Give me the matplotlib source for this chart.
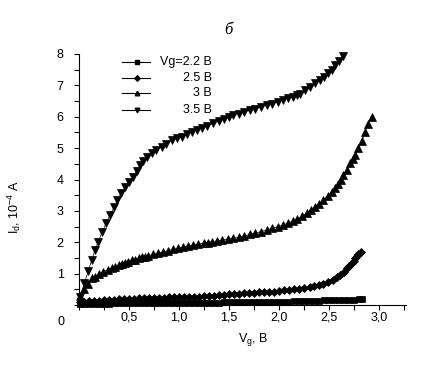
import matplotlib
matplotlib.use("Agg")
import matplotlib.pyplot as plt
from matplotlib.ticker import MultipleLocator, FixedLocator, FixedFormatter

plt.rcParams['font.family'] = ['Liberation Sans', 'DejaVu Sans']
plt.rcParams['mathtext.fontset'] = 'custom'
plt.rcParams['mathtext.rm'] = 'Liberation Sans'
plt.rcParams['mathtext.it'] = 'Liberation Sans'

# ---- data ----
x_22 = [0.01, 0.05, 0.10, 0.15, 0.20, 0.25, 0.30, 0.35, 0.40, 0.45, 0.50, 0.55, 0.60, 0.65,
        0.70, 0.75, 0.80, 0.85, 0.90, 0.95, 1.00, 1.05, 1.10, 1.15, 1.20, 1.25, 1.30, 1.35,
        1.40, 1.45, 1.50, 1.55, 1.60, 1.65, 1.70, 1.75, 1.80, 1.85, 1.90, 1.95, 2.00, 2.05,
        2.10, 2.15, 2.20, 2.25, 2.30, 2.35, 2.40, 2.45, 2.50, 2.55, 2.60, 2.65, 2.70, 2.75,
        2.80, 2.83]
y_22 = [0.04, 0.04, 0.04, 0.04, 0.045, 0.045, 0.045, 0.05, 0.05, 0.05, 0.05, 0.05, 0.055, 0.055,
        0.055, 0.06, 0.06, 0.06, 0.06, 0.06, 0.065, 0.065, 0.065, 0.07, 0.07, 0.07, 0.07, 0.075,
        0.075, 0.08, 0.08, 0.08, 0.085, 0.085, 0.09, 0.09, 0.09, 0.095, 0.095, 0.10, 0.10, 0.10,
        0.11, 0.12, 0.13, 0.13, 0.135, 0.14, 0.14, 0.145, 0.15, 0.155, 0.16, 0.165, 0.17, 0.175,
        0.18, 0.18]

x_25 = [0.01, 0.05, 0.10, 0.15, 0.20, 0.25, 0.30, 0.35, 0.40, 0.45, 0.50, 0.55, 0.60, 0.65,
        0.70, 0.75, 0.80, 0.85, 0.90, 0.95, 1.00, 1.05, 1.10, 1.15, 1.20, 1.25, 1.30, 1.35,
        1.40, 1.45, 1.50, 1.55, 1.60, 1.65, 1.70, 1.75, 1.80, 1.85, 1.90, 1.95, 2.00, 2.05,
        2.10, 2.15, 2.20, 2.25, 2.31, 2.35, 2.40, 2.443, 2.49, 2.543, 2.58, 2.61, 2.645, 2.677,
        2.70, 2.727, 2.745, 2.76, 2.78, 2.793, 2.817]
y_25 = [0.10, 0.11, 0.12, 0.13, 0.14, 0.15, 0.16, 0.17, 0.18, 0.19, 0.19, 0.20, 0.21, 0.21,
        0.22, 0.22, 0.23, 0.23, 0.24, 0.24, 0.25, 0.25, 0.26, 0.26, 0.27, 0.28, 0.29, 0.30,
        0.31, 0.32, 0.34, 0.35, 0.36, 0.37, 0.38, 0.39, 0.40, 0.41, 0.42, 0.43, 0.45, 0.47,
        0.48, 0.50, 0.52, 0.55, 0.58, 0.61, 0.64, 0.67, 0.72, 0.80, 0.88, 0.96, 1.06, 1.17,
        1.25, 1.33, 1.41, 1.49, 1.56, 1.62, 1.70]

x_30 = [0.01, 0.05, 0.09, 0.127, 0.16, 0.20, 0.243, 0.293, 0.33, 0.36, 0.40, 0.427, 0.46,
        0.493, 0.53, 0.56, 0.60, 0.627, 0.66, 0.693, 0.74, 0.793, 0.84, 0.893, 0.94, 0.993,
        1.04, 1.093, 1.14, 1.193, 1.25, 1.29, 1.327, 1.377, 1.43, 1.49, 1.543, 1.60, 1.65,
        1.71, 1.76, 1.82, 1.877, 1.93, 1.99, 2.043, 2.09, 2.14, 2.177, 2.23, 2.277, 2.32,
        2.36, 2.40, 2.443, 2.487, 2.527, 2.56, 2.593, 2.62, 2.643, 2.677, 2.71, 2.735, 2.76,
        2.793, 2.827, 2.86, 2.893, 2.927]
y_30 = [0.29, 0.50, 0.68, 0.85, 0.90, 0.98, 1.06, 1.13, 1.18, 1.22, 1.27, 1.31, 1.35,
        1.38, 1.42, 1.45, 1.49, 1.52, 1.54, 1.56, 1.61, 1.65, 1.69, 1.73, 1.77, 1.81,
        1.85, 1.88, 1.91, 1.94, 1.97, 1.99, 2.02, 2.04, 2.07, 2.10, 2.12, 2.16, 2.20,
        2.25, 2.29, 2.34, 2.39, 2.44, 2.50, 2.55, 2.61, 2.68, 2.73, 2.83, 2.92, 3.02,
        3.13, 3.23, 3.34, 3.48, 3.61, 3.74, 3.87, 4.00, 4.14, 4.30, 4.51, 4.65, 4.78,
        4.99, 5.22, 5.50, 5.78, 6.00]

x_35 = [0.01, 0.053, 0.093, 0.127, 0.16, 0.193, 0.233, 0.27, 0.31, 0.35, 0.383, 0.42, 0.46,
        0.50, 0.537, 0.577, 0.61, 0.643, 0.68, 0.727, 0.77, 0.827, 0.87, 0.927, 0.98, 1.027,
        1.08, 1.127, 1.18, 1.227, 1.28, 1.343, 1.40, 1.45, 1.50, 1.543, 1.60, 1.65, 1.71,
        1.76, 1.82, 1.877, 1.93, 1.99, 2.043, 2.09, 2.14, 2.18, 2.21, 2.26, 2.31, 2.36, 2.41,
        2.45, 2.493, 2.53, 2.56, 2.60, 2.637]
y_35 = [0.27, 0.69, 1.08, 1.43, 1.75, 2.02, 2.33, 2.60, 2.87, 3.11, 3.34, 3.56, 3.75,
        3.93, 4.09, 4.28, 4.45, 4.60, 4.72, 4.83, 4.93, 5.04, 5.13, 5.25, 5.31, 5.36,
        5.45, 5.52, 5.58, 5.63, 5.70, 5.79, 5.86, 5.92, 5.98, 6.05, 6.10, 6.15, 6.21,
        6.26, 6.31, 6.37, 6.42, 6.47, 6.53, 6.59, 6.64, 6.69, 6.74, 6.84, 6.95, 7.06, 7.17,
        7.27, 7.38, 7.50, 7.64, 7.78, 7.93]

series_labels = ["Vg=2.2 B", "2.5 B", "3 B", "3.5 B"]
series_markers = ["s", "D", "^", "v"]
x_ticks = [0.5, 1.0, 1.5, 2.0, 2.5, 3.0]
x_ticklabels = ["0,5", "1,0", "1,5", "2,0", "2,5", "3,0"]
y_ticks = [1, 2, 3, 4, 5, 6, 7, 8]

# ---- figure ----
W, H = 436, 370
fig = plt.figure(figsize=(W / 100, H / 100), dpi=100)
L, R, B, T = 79, 406, 305, 54
ax = fig.add_axes([L / W, 1 - B / H, (R - L) / W, (B - T) / H])

FS = 9

data = [(x_22, y_22), (x_25, y_25), (x_30, y_30), (x_35, y_35)]
sizes = [5.0, 4.4, 5.6, 5.6]
for (xs, ys), m, ms in zip(data, series_markers, sizes):
    ax.plot(xs, ys, color='black', lw=0.5, marker=m, ms=ms, mfc='black', mec='black',
            mew=0.5, clip_on=False, zorder=3)

ax.set_xlim(0, 3.27)
ax.set_ylim(0, 8)
for s in ['top', 'right']:
    ax.spines[s].set_visible(False)
for s in ['left', 'bottom']:
    ax.spines[s].set_linewidth(0.8)

ax.xaxis.set_major_locator(FixedLocator(x_ticks))
ax.xaxis.set_major_formatter(FixedFormatter(x_ticklabels))
ax.xaxis.set_minor_locator(MultipleLocator(0.25))
ax.yaxis.set_major_locator(FixedLocator(y_ticks))
ax.yaxis.set_minor_locator(MultipleLocator(0.5))
ax.tick_params(axis='both', which='both', direction='out', length=3.5, width=0.8, labelsize=FS)
ax.tick_params(axis='x', which='major', pad=1.5)
ax.tick_params(axis='y', which='major', pad=7.5)

# origin label
fig.text(61 / W, 1 - 322 / H, "0", fontsize=FS, ha='center', va='center')

ax.set_xlabel("V$_g$, B", fontsize=FS)
ax.xaxis.set_label_coords((253 - L) / (R - L), -(331 - B) / (B - T))
ax.set_ylabel("I$_d$, 10$^{-4}$ A", fontsize=FS)
ax.yaxis.set_label_coords((23 - L) / (R - L), (B - 207) / (B - T))

fig.text(228 / W, 1 - 30 / H, "б", fontsize=12, style='italic',
         family='Liberation Serif', ha='center', va='center')

# legend drawn manually
rows_px = [62.3, 78.3, 93.3, 110]
for lab, m, py in zip(series_labels, series_markers, rows_px):
    ya = (B - py) / (B - T)
    x0 = (122 - L) / (R - L)
    x1 = (150 - L) / (R - L)
    xm = (136.5 - L) / (R - L)
    ax.plot([x0, x1], [ya, ya], color='black', lw=0.8, transform=ax.transAxes, clip_on=False)
    ax.plot([xm], [ya], marker=m, ms=3.3 if m != 'D' else 2.8, color='black',
            transform=ax.transAxes, clip_on=False)
    ax.text((212 - L) / (R - L), ya, lab, fontsize=FS, ha='right', va='center',
            transform=ax.transAxes)

fig.savefig("out.png", dpi=100)
